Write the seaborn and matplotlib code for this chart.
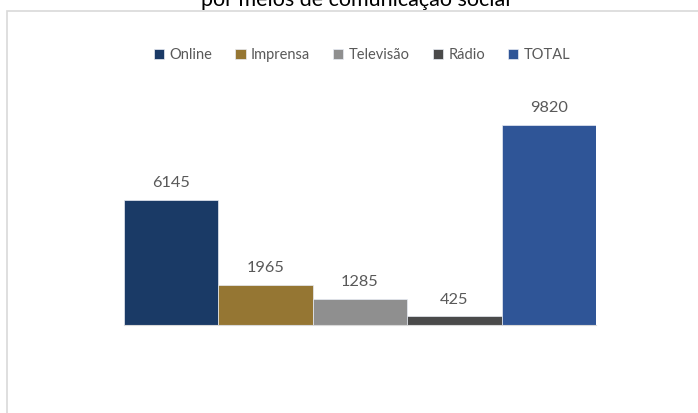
import matplotlib
matplotlib.use("Agg")
import matplotlib.pyplot as plt
from matplotlib.patches import Rectangle
import pandas as pd
import seaborn as sns

# Media outlets and number of mentions
meios = ["Online", "Imprensa", "Televisão", "Rádio", "TOTAL"]
valores = [6145, 1965, 1285, 425, 9820]
cores = ["#1A3A66", "#957633", "#8F8F8F", "#4A4A4A", "#2F5597"]

titulo = "por meios de comunicação social"

sns.set_theme(style="white")
plt.rcParams["font.family"] = ["Lato", "DejaVu Sans"]

W, H = 698, 413
fig = plt.figure(figsize=(W / 100, H / 100), dpi=100)

# outer chart frame (top and left edges visible)
fig.patches.append(Rectangle((7 / W, -0.1), 1.2, 1.1 - 11.5 / H, transform=fig.transFigure,
                             fill=False, edgecolor="#D9D9D9", linewidth=1.2, zorder=0))

# plot area: baseline at y=325px, bars span x=124..596
ymax = 10000
px_per_unit = 200 / 9820
ax_h = ymax * px_per_unit
ax = fig.add_axes([124 / W, (H - 325) / H, 472 / W, ax_h / H])

df = pd.DataFrame({"grupo": [""] * len(meios), "meio": meios, "valor": valores})
sns.barplot(data=df, x="grupo", y="valor", hue="meio", hue_order=meios,
            palette=cores, saturation=1, width=1, dodge=True, ax=ax,
            edgecolor="#E8ECF4", linewidth=0.5)

for cont in ax.containers:
    ax.bar_label(cont, fmt="%d", padding=7, color="#595959", fontsize=11.8)

ax.set_xlim(-0.5, 0.5)
ax.set_ylim(0, ymax)
ax.set_xlabel("")
ax.set_ylabel("")
ax.set_xticks([])
ax.set_yticks([])
for s in ["top", "left", "right"]:
    ax.spines[s].set_visible(False)
ax.spines["bottom"].set_color("#D9D9D9")
ax.spines["bottom"].set_linewidth(0.8)
ax.patch.set_alpha(0)

sns.move_legend(ax, "center", bbox_to_anchor=(362 / W, 1 - 55 / H),
                bbox_transform=fig.transFigure, ncol=5, frameon=False,
                title=None, fontsize=10.5, handlelength=0.7, handleheight=0.7,
                handletextpad=0.35, columnspacing=1.6)
for t in ax.get_legend().get_texts():
    t.set_color("#595959")

fig.text(356 / W, 1 - 6 / H, titulo, ha="center", va="baseline",
         fontsize=15.5, color="#000000")

fig.savefig("out.png", dpi=100, facecolor="white")
